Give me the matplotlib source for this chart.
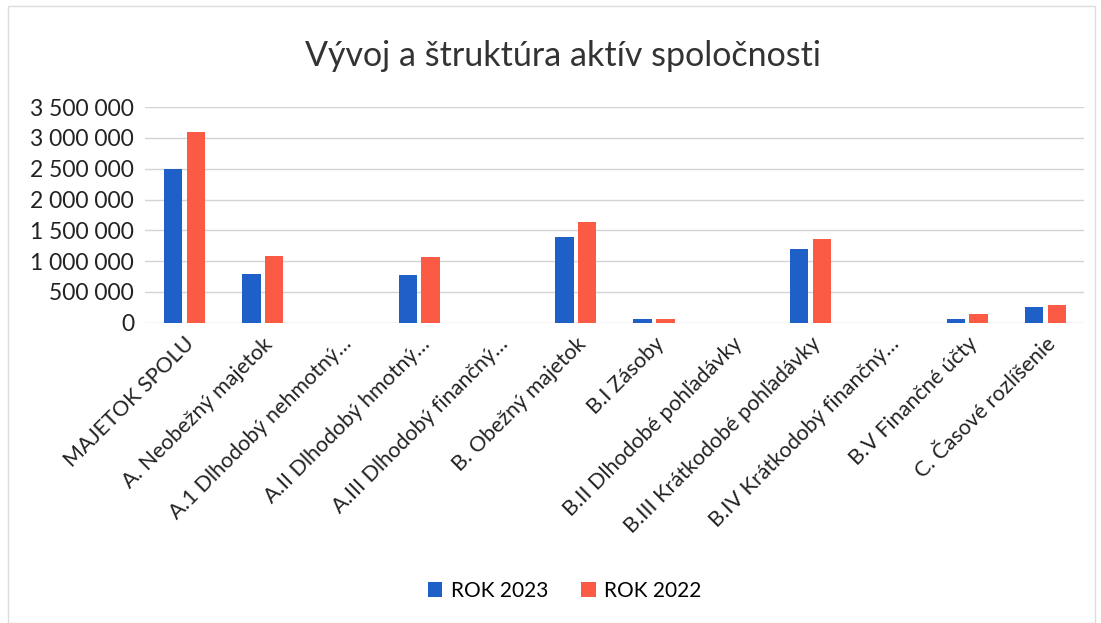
import numpy as np
import matplotlib
matplotlib.use('Agg')
import matplotlib.pyplot as plt
from matplotlib.ticker import FuncFormatter
from matplotlib.patches import Rectangle

plt.rcParams['font.family'] = ['Lato', 'DejaVu Sans']

categories = ["MAJETOK SPOLU", "A. Neobežný majetok", "A.1 Dlhodobý nehmotný…",
              "A.II Dlhodobý hmotný…", "A.III Dlhodobý finančný…", "B. Obežný majetok",
              "B.I Zásoby", "B.II Dlhodobé pohľadávky", "B.III Krátkodobé pohľadávky",
              "B.IV Krátkodobý finančný…", "B.V Finančné účty", "C. Časové rozlíšenie"]
rok_2023 = [2502000, 786000, 0, 775000, 0, 1397000, 55000, 0, 1193000, 0, 55000, 250000]
rok_2022 = [3094000, 1084000, 0, 1072000, 0, 1641000, 60000, 0, 1355000, 0, 137000, 283000]

fig = plt.figure(figsize=(11.01, 6.23), dpi=100)
# faint frame of the chart area, as in the scanned original
fig.patches.append(Rectangle((0.007, 0.0), 0.988, 0.99, transform=fig.transFigure,
                             fill=False, edgecolor='#dcdcdc', linewidth=1))
ax = fig.add_axes([0.132, 0.482, 0.853, 0.346])

x = np.arange(len(categories))
w = 0.235
ax.bar(x - 0.145, rok_2023, w, color='#1f5fc8', label='ROK 2023')
ax.bar(x + 0.145, rok_2022, w, color='#fb5a44', label='ROK 2022')

ax.set_xlim(-0.5, len(categories) - 0.5)
ax.set_ylim(0, 3500000)
ax.set_yticks(np.arange(0, 3500001, 500000))
ax.yaxis.set_major_formatter(FuncFormatter(lambda v, p: f"{int(v):,}".replace(",", " ")))
ax.grid(axis='y', color='#d4d4d4', linewidth=1)
ax.set_axisbelow(True)
for s in ax.spines.values():
    s.set_visible(False)
ax.tick_params(length=0, labelsize=16.5, colors='#222222', pad=8)
ax.set_xticks(x)
ax.set_xticklabels(categories, rotation=45, ha='right', rotation_mode='anchor', fontsize=15.5)

fig.text(0.511, 0.91, "Vývoj a štruktúra aktív spoločnosti", ha='center', va='center',
         fontsize=24.5, color='#333333')
fig.legend(loc='center', bbox_to_anchor=(0.513, 0.052), ncol=2, frameon=False,
           fontsize=15, handlelength=0.7, handleheight=0.7, columnspacing=1.6, handletextpad=0.4)

fig.savefig('out.png', dpi=100)
